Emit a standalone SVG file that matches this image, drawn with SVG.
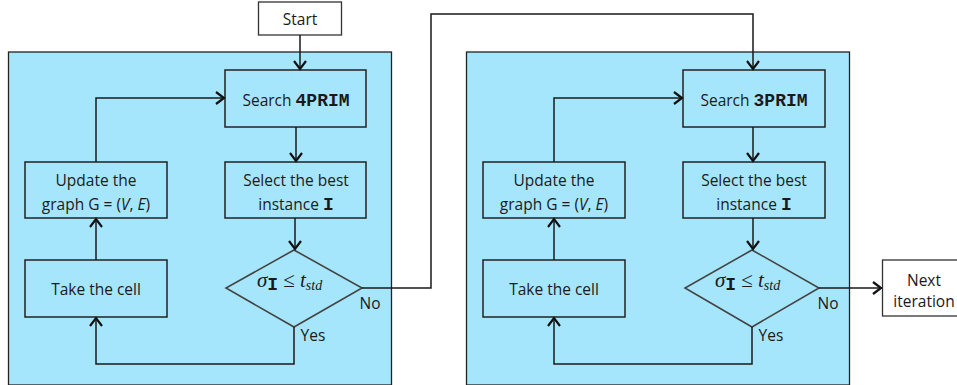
<svg xmlns="http://www.w3.org/2000/svg" width="957" height="385" viewBox="0 0 957 385">
<style>
.panel{fill:#A6E6FC;stroke:#222;stroke-width:1.3}
.box{fill:#A6E6FC;stroke:#222;stroke-width:1.5}
.wbox{fill:#fff;stroke:#333;stroke-width:1.3}
.dia{fill:#A6E6FC;stroke:#444;stroke-width:1.6}
.t{font-family:"Open Sans","Liberation Sans",sans-serif;font-size:15.5px;fill:#1a1a1a;text-anchor:middle}
.m{font-family:"Liberation Mono","Courier New",monospace;font-weight:bold;font-size:18px}
.math{font-family:"Liberation Serif","Times New Roman",serif;font-style:italic;font-size:21px;fill:#1a1a1a}
.c{fill:none;stroke:#1a1a1a;stroke-width:1.5}
</style>
<defs>
<marker id="ah" markerUnits="userSpaceOnUse" orient="auto" refX="0" refY="0" overflow="visible" markerWidth="20" markerHeight="20">
<path d="M-8,-6 L0,0 L-8,6" fill="none" stroke="#111" stroke-width="2.2"/>
</marker>
</defs>
<g id="panel-left"><rect class="panel" x="8.5" y="52" width="383" height="333"/></g>
<g id="panel-right"><rect class="panel" x="466.5" y="52" width="383" height="333"/></g>
<g id="start"><rect class="wbox" x="258.5" y="2" width="83" height="33"/><text class="t" x="300" y="25">Start</text></g>
<g id="search4"><rect class="box" x="225" y="70" width="141" height="57"/><text class="t" x="296" y="106">Search <tspan class="m">4PRIM</tspan></text></g>
<g id="select1"><rect class="box" x="225" y="162" width="141" height="56"/><text class="t" x="296" y="186">Select the best</text><text class="t" x="296" y="210">instance <tspan class="m">I</tspan></text></g>
<g id="update1"><rect class="box" x="25" y="162" width="142" height="56"/><text class="t" x="96" y="186">Update the</text><text class="t" x="96" y="210">graph G = (<tspan font-style="italic">V</tspan>, <tspan font-style="italic">E</tspan>)</text></g>
<g id="take1"><rect class="box" x="25" y="260" width="142" height="57"/><text class="t" x="96" y="295">Take the cell</text></g>
<g id="dec1"><polygon class="dia" points="294,250 362,288 294,327 226,288"/><text class="math" x="257" y="287">σ<tspan class="m" font-style="normal" font-size="14" dy="3">I</tspan><tspan font-style="normal" dy="-3" dx="5">≤</tspan> t<tspan font-size="14" dy="3">std</tspan></text></g>
<g id="search3"><rect class="box" x="683" y="70" width="142" height="57"/><text class="t" x="754" y="106">Search <tspan class="m">3PRIM</tspan></text></g>
<g id="select2"><rect class="box" x="683" y="162" width="142" height="56"/><text class="t" x="754" y="186">Select the best</text><text class="t" x="754" y="210">instance <tspan class="m">I</tspan></text></g>
<g id="update2"><rect class="box" x="483" y="162" width="142" height="56"/><text class="t" x="554" y="186">Update the</text><text class="t" x="554" y="210">graph G = (<tspan font-style="italic">V</tspan>, <tspan font-style="italic">E</tspan>)</text></g>
<g id="take2"><rect class="box" x="483" y="260" width="142" height="57"/><text class="t" x="554" y="295">Take the cell</text></g>
<g id="dec2"><polygon class="dia" points="752,250 819,288 752,327 685,288"/><text class="math" x="715" y="287">σ<tspan class="m" font-style="normal" font-size="14" dy="3">I</tspan><tspan font-style="normal" dy="-3" dx="5">≤</tspan> t<tspan font-size="14" dy="3">std</tspan></text></g>
<g id="next"><rect class="wbox" x="882.5" y="260" width="90" height="56"/><text class="t" x="924" y="286">Next</text><text class="t" x="924" y="307">iteration</text></g>
<g id="connectors">
<path class="c" d="M300,35 V69" marker-end="url(#ah)"/>
<path class="c" d="M296,127 V161" marker-end="url(#ah)"/>
<path class="c" d="M295,218 V249" marker-end="url(#ah)"/>
<path class="c" d="M96,260 V219" marker-end="url(#ah)"/>
<path class="c" d="M96,162 V98 H224" marker-end="url(#ah)"/>
<path class="c" d="M294,327 V364 H96 V318" marker-end="url(#ah)"/>
<path class="c" d="M362,288 H431 V14 H753 V69" marker-end="url(#ah)"/>
<path class="c" d="M753,127 V161" marker-end="url(#ah)"/>
<path class="c" d="M753,218 V249" marker-end="url(#ah)"/>
<path class="c" d="M554,260 V219" marker-end="url(#ah)"/>
<path class="c" d="M554,162 V98 H682" marker-end="url(#ah)"/>
<path class="c" d="M752,327 V364 H554 V318" marker-end="url(#ah)"/>
<path class="c" d="M819,288 H881" marker-end="url(#ah)"/>
<text class="t" x="313" y="341">Yes</text>
<text class="t" x="370" y="309">No</text>
<text class="t" x="771" y="341">Yes</text>
<text class="t" x="828" y="309">No</text>
</g>
</svg>
